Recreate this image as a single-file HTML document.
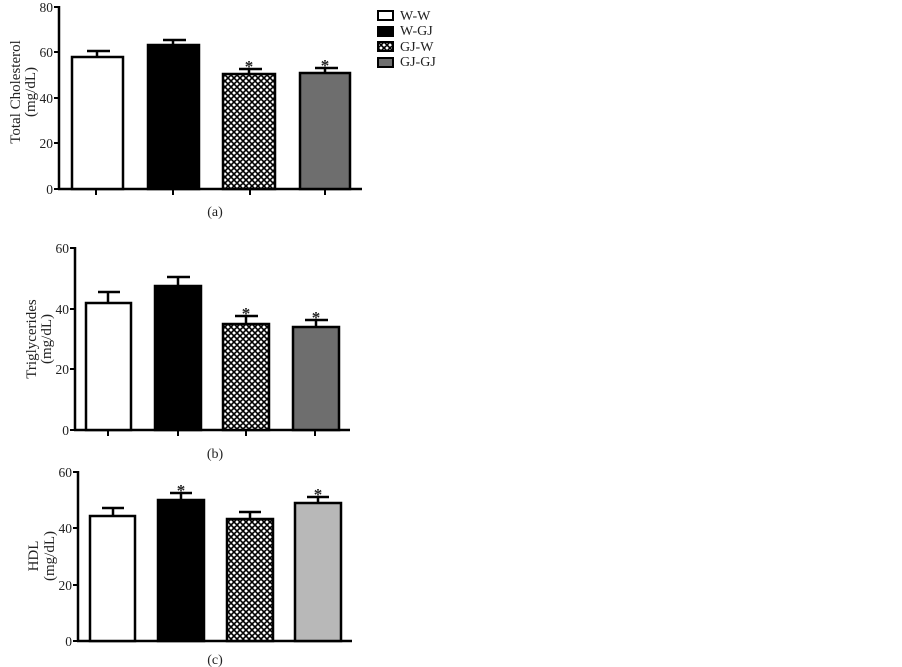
<!DOCTYPE html>
<html><head><style>body{margin:0;background:#fff}svg{display:block}text{font-family:"Liberation Serif",serif;fill:#222}</style></head><body>
<svg width="902" height="667" viewBox="0 0 902 667" xmlns="http://www.w3.org/2000/svg">
<defs>
<pattern id="hx" width="6" height="6" patternUnits="userSpaceOnUse">
<rect width="6" height="6" fill="#fff"/>
<path d="M-1,1 L1,-1 M0,6 L6,0 M5,7 L7,5 M-1,5 L1,7 M0,0 L6,6 M5,-1 L7,1" stroke="#000" stroke-width="1.6"/>
</pattern>
</defs>
<g stroke="#000" stroke-width="2.5">
<line x1="59" y1="6" x2="59" y2="189"/><line x1="58" y1="189" x2="362" y2="189"/>
<g stroke-width="2"><line x1="54" y1="7" x2="59" y2="7"/><line x1="54" y1="52" x2="59" y2="52"/><line x1="54" y1="98" x2="59" y2="98"/><line x1="54" y1="143" x2="59" y2="143"/><line x1="54" y1="189" x2="59" y2="189"/>
<line x1="96" y1="189" x2="96" y2="195"/><line x1="173" y1="189" x2="173" y2="195"/><line x1="250" y1="189" x2="250" y2="195"/><line x1="325" y1="189" x2="325" y2="195"/></g>
<line x1="97" y1="57" x2="97" y2="51"/><line x1="87" y1="51" x2="110" y2="51"/>
<line x1="173" y1="45" x2="173" y2="40"/><line x1="163" y1="40" x2="186" y2="40"/>
<line x1="249" y1="74" x2="249" y2="69"/><line x1="239" y1="69" x2="262" y2="69"/>
<line x1="325" y1="73" x2="325" y2="68"/><line x1="315" y1="68" x2="338" y2="68"/>
<rect x="72" y="57" width="51" height="132" fill="#fff"/>
<rect x="148" y="45" width="51" height="144" fill="#000"/>
<rect x="223" y="74" width="52" height="115" fill="url(#hx)"/>
<rect x="300" y="73" width="50" height="116" fill="#6e6e6e"/>
<g stroke-width="2"><rect x="378" y="11" width="15" height="9" fill="#fff"/><rect x="378" y="27" width="15" height="9" fill="#000"/><rect x="378" y="42" width="15" height="9" fill="url(#hx)"/><rect x="378" y="58" width="15" height="9" fill="#6e6e6e"/></g>
<line x1="75" y1="247" x2="75" y2="430"/><line x1="74" y1="430" x2="350" y2="430"/>
<g stroke-width="2"><line x1="70" y1="248" x2="75" y2="248"/><line x1="70" y1="309" x2="75" y2="309"/><line x1="70" y1="369" x2="75" y2="369"/><line x1="70" y1="430" x2="75" y2="430"/>
<line x1="108" y1="430" x2="108" y2="436"/><line x1="178" y1="430" x2="178" y2="436"/><line x1="246" y1="430" x2="246" y2="436"/><line x1="315" y1="430" x2="315" y2="436"/></g>
<line x1="108" y1="303" x2="108" y2="292"/><line x1="98" y1="292" x2="120" y2="292"/>
<line x1="178" y1="286" x2="178" y2="277"/><line x1="167" y1="277" x2="190" y2="277"/>
<line x1="246" y1="324" x2="246" y2="316"/><line x1="235" y1="316" x2="258" y2="316"/>
<line x1="316" y1="327" x2="316" y2="320"/><line x1="305" y1="320" x2="328" y2="320"/>
<rect x="86" y="303" width="45" height="127" fill="#fff"/>
<rect x="155" y="286" width="46" height="144" fill="#000"/>
<rect x="223" y="324" width="46" height="106" fill="url(#hx)"/>
<rect x="293" y="327" width="46" height="103" fill="#6e6e6e"/>
<line x1="78" y1="471" x2="78" y2="641"/><line x1="77" y1="641" x2="352" y2="641"/>
<g stroke-width="2"><line x1="73" y1="472" x2="78" y2="472"/><line x1="73" y1="528" x2="78" y2="528"/><line x1="73" y1="585" x2="78" y2="585"/><line x1="73" y1="641" x2="78" y2="641"/></g>
<line x1="113" y1="516" x2="113" y2="508"/><line x1="102" y1="508" x2="124" y2="508"/>
<line x1="181" y1="500" x2="181" y2="493"/><line x1="170" y1="493" x2="192" y2="493"/>
<line x1="250" y1="519" x2="250" y2="512"/><line x1="239" y1="512" x2="261" y2="512"/>
<line x1="318" y1="503" x2="318" y2="497"/><line x1="307" y1="497" x2="329" y2="497"/>
<rect x="90" y="516" width="45" height="125" fill="#fff"/>
<rect x="158" y="500" width="46" height="141" fill="#000"/>
<rect x="227" y="519" width="46" height="122" fill="url(#hx)"/>
<rect x="295" y="503" width="46" height="138" fill="#b8b8b8"/>
</g>
<g font-size="13.5" text-anchor="end">
<text x="53" y="12">80</text><text x="53" y="57">60</text><text x="53" y="103">40</text><text x="53" y="148">20</text><text x="53" y="194">0</text>
<text x="69" y="253">60</text><text x="69" y="314">40</text><text x="69" y="374">20</text><text x="69" y="435">0</text>
<text x="72" y="477">60</text><text x="72" y="533">40</text><text x="72" y="590">20</text><text x="72" y="646">0</text>
</g>
<g font-size="14">
<text x="400" y="20">W-W</text><text x="400" y="35">W-GJ</text><text x="400" y="51">GJ-W</text><text x="400" y="66">GJ-GJ</text>
</g>
<g font-size="14" text-anchor="middle">
<text x="215" y="216">(a)</text><text x="215" y="458">(b)</text><text x="215" y="664">(c)</text>
</g>
<g font-size="15" text-anchor="middle">
<text transform="translate(20,92) rotate(-90)">Total Cholesterol</text>
<text transform="translate(35,92) rotate(-90)">(mg/dL)</text>
<text transform="translate(36,339) rotate(-90)">Triglycerides</text>
<text transform="translate(51,339) rotate(-90)">(mg/dL)</text>
<text transform="translate(38,556) rotate(-90)">HDL</text>
<text transform="translate(54,556) rotate(-90)">(mg/dL)</text>
</g>
<g font-size="17" text-anchor="middle" font-weight="bold">
<text x="249" y="72">*</text><text x="325" y="71">*</text>
<text x="246" y="319">*</text><text x="316" y="323">*</text>
<text x="181" y="496">*</text><text x="318" y="500">*</text>
</g>
</svg>
</body></html>
